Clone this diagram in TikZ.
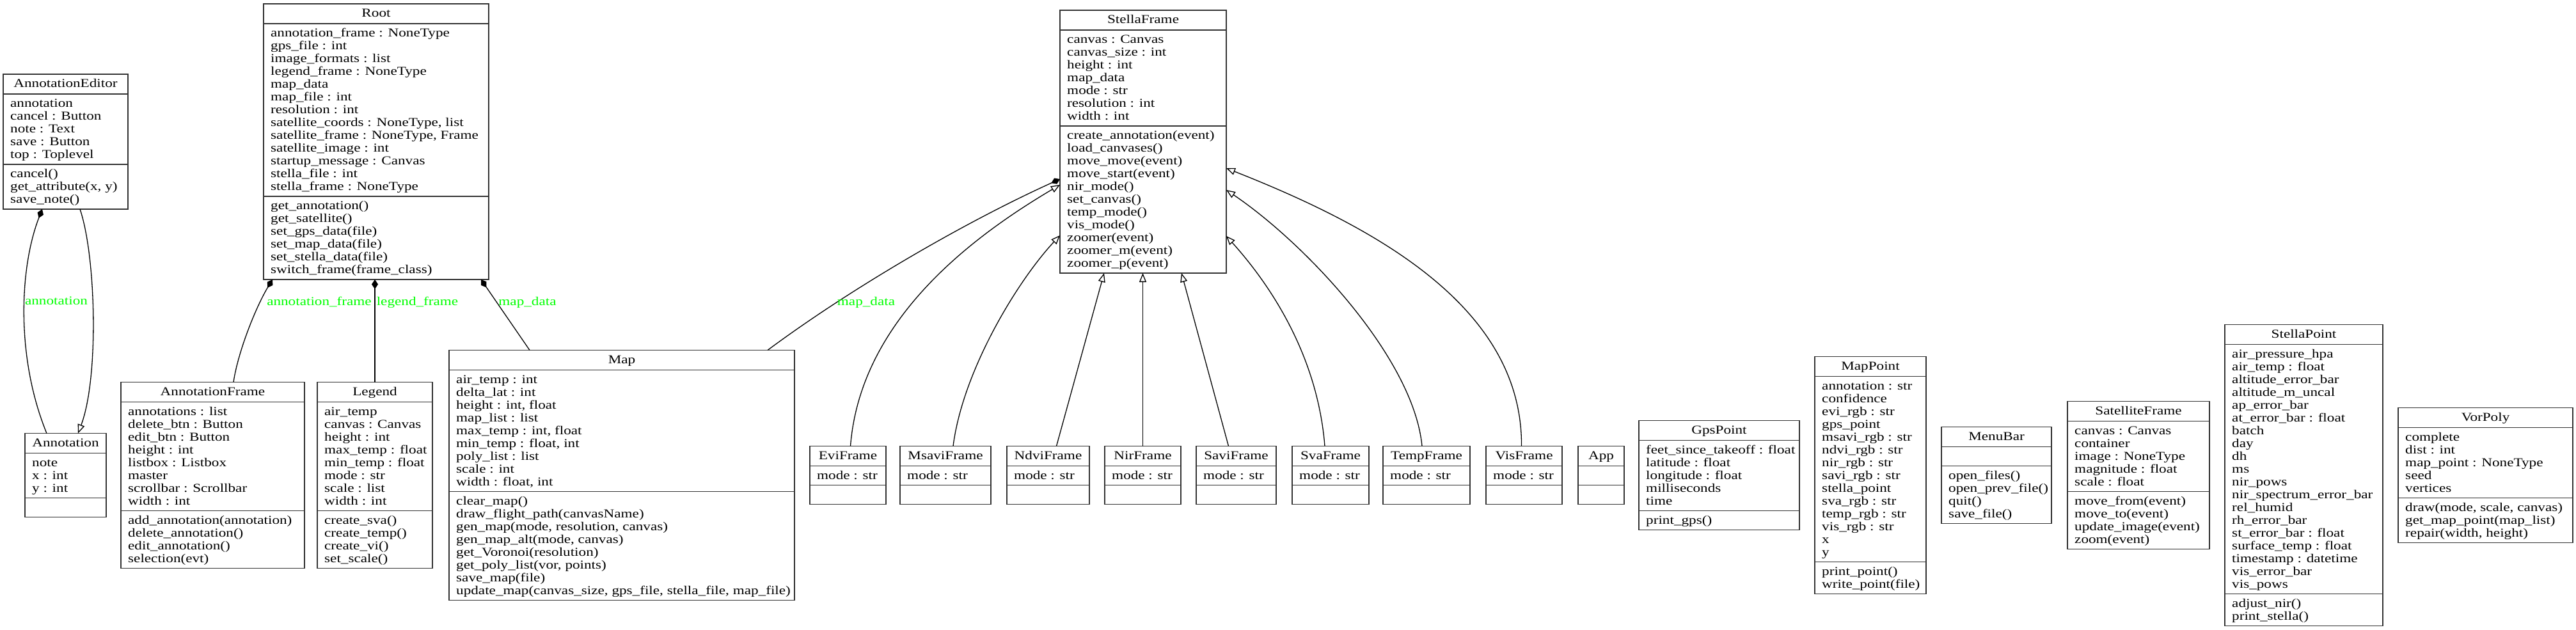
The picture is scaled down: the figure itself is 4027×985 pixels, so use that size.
\documentclass[tikz,border=0pt]{standalone}
\usepackage{fontspec}
\setmainfont{Liberation Serif}[FakeStretch=1.22]
\usetikzlibrary{arrows.meta,calc}
\definecolor{lblgreen}{RGB}{0,255,0}
\newcommand\cf{\fontsize{19}{20}\selectfont}
\tikzset{
 classbox/.style={draw=black!80, line width=1.8pt, fill=white, inner sep=0pt, outer sep=0pt},
 boxline/.style={draw=black!80, line width=1.8pt},
 linetext/.style={anchor=north west, inner sep=0pt, align=left, font=\cf},
 titletext/.style={anchor=base, inner sep=0pt, font=\cf},
 edgeline/.style={draw=black, line width=1.3pt},
 inh/.style={edgeline, -{Triangle[length=14pt,width=11pt,fill=white]}},
 comp/.style={edgeline, -{Diamond[length=15pt,width=10pt]}},
 lbl/.style={text=lblgreen, font=\cf, inner sep=0pt, anchor=base},
}
% name, left, top, width, title, nattr, attrs, nmeth, meths
\newcommand\umlclass[9]{%
  \pgfmathsetmacro\clsA{20*#6+10}%
  \pgfmathsetmacro\clsM{20*#8+10}%
  \pgfmathsetmacro\clsH{31+\clsA+\clsM}%
  \node[classbox, minimum width=#4pt, minimum height=\clsH pt, anchor=north west] (#1) at (#2,#3) {};
  \node[titletext] (#1-t) at ($(#1.north)+(0,20.5)$) {#5};
  \draw[boxline] ($(#1.north west)+(0,31)$) -- ($(#1.north east)+(0,31)$);
  \draw[boxline] ($(#1.north west)+(0,31+\clsA)$) -- ($(#1.north east)+(0,31+\clsA)$);
  \node[linetext] (#1-a) at ($(#1.north west)+(11,37.5)$) {\strut #7};
  \node[linetext] (#1-m) at ($(#1.north west)+(11,37.5+\clsA)$) {\strut #9};
}
\begin{document}
\begin{tikzpicture}[x=1pt,y=-1pt]
\useasboundingbox (0,0) rectangle (4027,985);

% rank 1
\umlclass{AnnotationEditor}{5}{116}{195}{AnnotationEditor}{5}{annotation\\cancel : Button\\note : Text\\save : Button\\top : Toplevel}{3}{cancel()\\get\_attribute(x, y)\\save\_note()}
\umlclass{Root}{412}{6}{352}{Root}{13}{annotation\_frame : NoneType\\gps\_file : int\\image\_formats : list\\legend\_frame : NoneType\\map\_data\\map\_file : int\\resolution : int\\satellite\_coords : NoneType, list\\satellite\_frame : NoneType, Frame\\satellite\_image : int\\startup\_message : Canvas\\stella\_file : int\\stella\_frame : NoneType}{6}{get\_annotation()\\get\_satellite()\\set\_gps\_data(file)\\set\_map\_data(file)\\set\_stella\_data(file)\\switch\_frame(frame\_class)}
\umlclass{StellaFrame}{1657}{16}{260}{StellaFrame}{7}{canvas : Canvas\\canvas\_size : int\\height : int\\map\_data\\mode : str\\resolution : int\\width : int}{11}{create\_annotation(event)\\load\_canvases()\\move\_move(event)\\move\_start(event)\\nir\_mode()\\set\_canvas()\\temp\_mode()\\vis\_mode()\\zoomer(event)\\zoomer\_m(event)\\zoomer\_p(event)}

% rank 2
\umlclass{Annotation}{39}{677.5}{127}{Annotation}{3}{note\\x : int\\y : int}{1}{}
\umlclass{AnnotationFrame}{189}{597.5}{287}{AnnotationFrame}{8}{annotations : list\\delete\_btn : Button\\edit\_btn : Button\\height : int\\listbox : Listbox\\master\\scrollbar : Scrollbar\\width : int}{4}{add\_annotation(annotation)\\delete\_annotation()\\edit\_annotation()\\selection(evt)}
\umlclass{Legend}{496}{597.5}{180}{Legend}{8}{air\_temp\\canvas : Canvas\\height : int\\max\_temp : float\\min\_temp : float\\mode : str\\scale : list\\width : int}{4}{create\_sva()\\create\_temp()\\create\_vi()\\set\_scale()}
\umlclass{Map}{702}{547.5}{540}{Map}{9}{air\_temp : int\\delta\_lat : int\\height : int, float\\map\_list : list\\max\_temp : int, float\\min\_temp : float, int\\poly\_list : list\\scale : int\\width : float, int}{8}{clear\_map()\\draw\_flight\_path(canvasName)\\gen\_map(mode, resolution, canvas)\\gen\_map\_alt(mode, canvas)\\get\_Voronoi(resolution)\\get\_poly\_list(vor, points)\\save\_map(file)\\update\_map(canvas\_size, gps\_file, stella\_file, map\_file)}
\umlclass{EviFrame}{1266}{697.5}{119}{EviFrame}{1}{mode : str}{1}{}
\umlclass{MsaviFrame}{1407}{697.5}{142}{MsaviFrame}{1}{mode : str}{1}{}
\umlclass{NdviFrame}{1574}{697.5}{129}{NdviFrame}{1}{mode : str}{1}{}
\umlclass{NirFrame}{1727}{697.5}{119}{NirFrame}{1}{mode : str}{1}{}
\umlclass{SaviFrame}{1870}{697.5}{125}{SaviFrame}{1}{mode : str}{1}{}
\umlclass{SvaFrame}{2020}{697.5}{120}{SvaFrame}{1}{mode : str}{1}{}
\umlclass{TempFrame}{2162}{697.5}{136}{TempFrame}{1}{mode : str}{1}{}
\umlclass{VisFrame}{2323}{697.5}{119}{VisFrame}{1}{mode : str}{1}{}
\umlclass{App}{2467}{697.5}{72}{App}{1}{}{1}{}
\umlclass{GpsPoint}{2562}{657.5}{251}{GpsPoint}{5}{feet\_since\_takeoff : float\\latitude : float\\longitude : float\\milliseconds\\time}{1}{print\_gps()}
\umlclass{MapPoint}{2837}{557.5}{174}{MapPoint}{14}{annotation : str\\confidence\\evi\_rgb : str\\gps\_point\\msavi\_rgb : str\\ndvi\_rgb : str\\nir\_rgb : str\\savi\_rgb : str\\stella\_point\\sva\_rgb : str\\temp\_rgb : str\\vis\_rgb : str\\x\\y}{2}{print\_point()\\write\_point(file)}
\umlclass{MenuBar}{3035}{667.5}{172}{MenuBar}{1}{}{4}{open\_files()\\open\_prev\_file()\\quit()\\save\_file()}
\umlclass{SatelliteFrame}{3232}{627.5}{222}{SatelliteFrame}{5}{canvas : Canvas\\container\\image : NoneType\\magnitude : float\\scale : float}{4}{move\_from(event)\\move\_to(event)\\update\_image(event)\\zoom(event)}
\umlclass{StellaPoint}{3478}{507.5}{247}{StellaPoint}{19}{air\_pressure\_hpa\\air\_temp : float\\altitude\_error\_bar\\altitude\_m\_uncal\\ap\_error\_bar\\at\_error\_bar : float\\batch\\day\\dh\\ms\\nir\_pows\\nir\_spectrum\_error\_bar\\rel\_humid\\rh\_error\_bar\\st\_error\_bar : float\\surface\_temp : float\\timestamp : datetime\\vis\_error\_bar\\vis\_pows}{2}{adjust\_nir()\\print\_stella()}
\umlclass{VorPoly}{3749}{637.5}{273}{VorPoly}{5}{complete\\dist : int\\map\_point : NoneType\\seed\\vertices}{3}{draw(mode, scale, canvas)\\get\_map\_point(map\_list)\\repair(width, height)}

% connectors
\draw[comp] ($(Annotation.north west)+(34,0)$) .. controls (25,560) and (30,420) .. ($(AnnotationEditor.south west)+(61,0)$);
\node[lbl] (lblAnn) at (88,476) {annotation};
\draw[inh] ($(AnnotationEditor.south west)+(120,0)$) .. controls (150,400) and (155,590) .. ($(Annotation.north west)+(83,0)$);

\draw[comp] ($(AnnotationFrame.north west)+(176,0)$) .. controls (372,550) and (400,480) .. ($(Root.south west)+(14,0)$);
\node[lbl] (lblAF) at (499,477) {annotation\_frame};
\draw[comp] (Legend.north) -- (Legend.north |- Root.south);
\node[lbl] (lblLeg) at (652.5,477) {legend\_frame};
\draw[comp] ($(Map.north west)+(126,0)$) -- ($(Root.south east)+(-12,0)$);
\node[lbl] (lblMapA) at (824.5,477) {map\_data};

\draw[comp] ($(Map.north east)+(-42,0)$) .. controls (1330,451) and (1507,348) .. ($(StellaFrame.north west)+(0,264)$);
\node[lbl] (lblMapB) at (1354,477) {map\_data};

\draw[inh] ($(EviFrame.north)+(4,0)$) .. controls (1345,500) and (1520,370) .. ($(StellaFrame.north west)+(0,273)$);
\draw[inh] ($(MsaviFrame.north)+(12,0)$) .. controls (1505,580) and (1590,440) .. ($(StellaFrame.north west)+(0,352)$);
\draw[inh] ($(NdviFrame.north)+(13,0)$) -- ($(StellaFrame.south west)+(69,0)$);
\draw[inh] (NirFrame.north) -- (NirFrame.north |- StellaFrame.south);
\draw[inh] ($(SaviFrame.north)+(-12,0)$) -- ($(StellaFrame.south west)+(190,0)$);
\draw[inh] ($(SvaFrame.north)+(-9,0)$) .. controls (2060,560) and (1990,450) .. ($(StellaFrame.north east)+(0,353)$);
\draw[inh] ($(TempFrame.north)+(-7,0)$) .. controls (2210,560) and (2040,380) .. ($(StellaFrame.north east)+(0,281)$);
\draw[inh] ($(VisFrame.north)+(-4,0)$) .. controls (2380,480) and (2150,355) .. ($(StellaFrame.north east)+(0,247)$);
\end{tikzpicture}
\end{document}
